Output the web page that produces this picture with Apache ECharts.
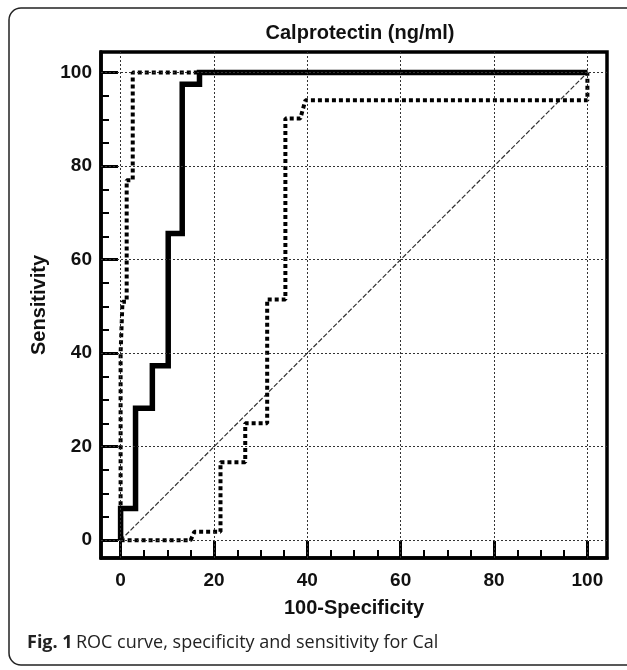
<!DOCTYPE html>
<html>
<head>
<meta charset="utf-8">
<script src="https://cdn.jsdelivr.net/npm/echarts@6/dist/echarts.min.js"></script>
<style>
  html, body { margin: 0; padding: 0; background: #fff; }
  #chart { width: 627px; height: 670px; }
</style>
</head>
<body>
<div id="chart"></div>
<script>
// values
const majorTicks = [0, 20, 40, 60, 80, 100];
const minorTicks = [5, 10, 15, 25, 30, 35, 45, 50, 55, 65, 70, 75, 85, 90, 95];

// solid curve (100-specificity, sensitivity)
const solidCurve = [
  [0, 0], [0, 6.8], [3.2, 6.8], [3.2, 28.2], [6.8, 28.2], [6.8, 37.3],
  [10.2, 37.3], [10.2, 65.6], [13.2, 65.6], [13.2, 97.5], [16.9, 97.5],
  [16.9, 100], [100, 100]
];
// dotted curve hugging the left axis
const dottedLeft = [
  [0, 0], [0, 40], [0.4, 51], [1.3, 51], [1.3, 77], [2.6, 77], [2.6, 100], [100, 100]
];
// dotted curve on the right
const dottedRight = [
  [0, 0], [15, 0], [15.8, 1.8], [21.4, 1.8], [21.4, 16.7], [26.7, 16.7],
  [26.7, 25], [31.4, 25], [31.4, 51.5], [35.3, 51.5], [35.3, 90.2],
  [38.5, 90.2], [39.6, 94.1], [100, 94.1], [100, 100]
];
const diagonal = [[0, 0], [100, 100]];

const chart = echarts.init(document.getElementById('chart'));
const font = 'Liberation Sans, Arial, sans-serif';

function mainAxis(name, nameGap, labelMargin, min, max) {
  return {
    type: 'value',
    min: min,
    max: max,
    name: name,
    nameLocation: 'middle',
    nameGap: nameGap,
    nameTextStyle: { color: '#111', fontFamily: font, fontWeight: 'bold', fontSize: 20 },
    axisLine: { show: true, onZero: false, lineStyle: { color: '#000', width: 3.5 } },
    axisTick: {
      show: true, inside: true, length: 17, customValues: majorTicks,
      lineStyle: { color: '#000', width: 3 }
    },
    axisLabel: {
      customValues: majorTicks, margin: labelMargin,
      color: '#111', fontFamily: font, fontWeight: 'bold', fontSize: 19
    },
    splitLine: { show: false }
  };
}

function minorAxis(min, max) {
  return {
    type: 'value',
    min: min,
    max: max,
    axisLine: { show: false, onZero: false },
    axisTick: {
      show: true, inside: true, length: 8, customValues: minorTicks,
      lineStyle: { color: '#000', width: 2 }
    },
    axisLabel: { show: false },
    splitLine: { show: false }
  };
}

const gridLineData = majorTicks.map(v => ({ xAxis: v }))
  .concat(majorTicks.map(v => ({ yAxis: v })));

const xMin = -4.2, xMax = 104.2, yMin = -3.8, yMax = 104.4;

const xMain = mainAxis('100-Specificity', 40, 13, xMin, xMax);
xMain.position = 'bottom';
const xMinor = minorAxis(xMin, xMax);
xMinor.position = 'bottom';
const yMain = mainAxis('Sensitivity', 44, 9, yMin, yMax);
yMain.position = 'left';
const yMinor = minorAxis(yMin, yMax);
yMinor.position = 'left';

chart.setOption({
  animation: false,
  grid: {
    left: 101, right: 20, top: 52, bottom: 112,
    show: true, borderColor: '#000', borderWidth: 3.5
  },
  xAxis: [xMain, xMinor],
  yAxis: [yMain, yMinor],
  graphic: [
    {
      type: 'rect',
      shape: { x: 9, y: 8, width: 640, height: 657, r: 12 },
      style: { fill: 'none', stroke: '#222', lineWidth: 1.5 },
      silent: true
    },
    {
      type: 'text',
      x: 360, y: 33,
      style: {
        text: 'Calprotectin (ng/ml)',
        font: 'bold 20px Liberation Sans, Arial, sans-serif',
        fill: '#111', textAlign: 'center', textVerticalAlign: 'middle'
      }
    },
    {
      type: 'text',
      x: 27, y: 643,
      style: {
        text: '{b|Fig. 1} {r|ROC curve, specificity and sensitivity for Cal}',
        textVerticalAlign: 'middle',
        rich: {
          b: { fontFamily: 'Open Sans, Noto Sans, sans-serif', fontWeight: 'bold', fontSize: 18, fill: '#222' },
          r: { fontFamily: 'Open Sans, Noto Sans, sans-serif', fontSize: 18, fill: '#222' }
        }
      }
    }
  ],
  series: [
    {
      type: 'line',
      data: diagonal,
      symbol: 'none',
      z: 2,
      lineStyle: { color: '#333', width: 1.2, type: [5, 2] },
      markLine: {
        silent: true,
        symbol: 'none',
        label: { show: false },
        lineStyle: { color: '#333', width: 1, type: [2, 2] },
        data: gridLineData
      }
    },
    {
      type: 'line',
      data: dottedRight,
      symbol: 'none',
      z: 3,
      lineStyle: { color: '#000', width: 4, type: [4, 3], cap: 'butt' }
    },
    {
      type: 'line',
      data: dottedLeft,
      symbol: 'none',
      z: 3,
      lineStyle: { color: '#000', width: 4, type: [4, 3], cap: 'butt' }
    },
    {
      type: 'line',
      data: solidCurve,
      symbol: 'none',
      z: 4,
      lineStyle: { color: '#000', width: 5.5, join: 'miter' }
    }
  ]
});
</script>
</body>
</html>
